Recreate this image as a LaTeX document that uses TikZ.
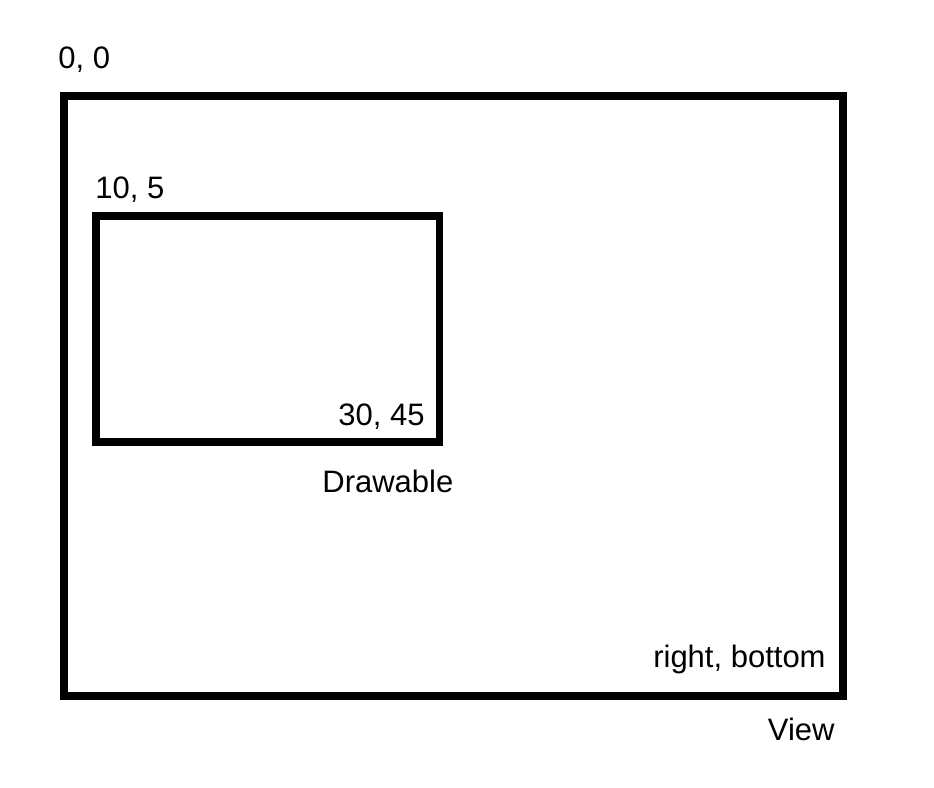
\documentclass[tikz,border=0pt]{standalone}
\usepackage{fontspec}
\setmainfont{Liberation Sans}
\usepackage{tikz}

\begin{document}
\begin{tikzpicture}[x=0.5pt, y=-0.5pt, font=\fontsize{15.5}{18}\selectfont,
		frame/.style={draw, line width=4pt, inner sep=0pt, outer sep=0pt},
		coord/.style={inner sep=0pt}]
		\useasboundingbox (0, 0) rectangle (934, 788);
		\node[frame, minimum width=389.5pt, minimum height=300pt] (view) at (453.5, 396) {};
		\node[frame, line width=3.8pt, minimum width=171.75pt, minimum height=113pt] (drawable) at (267.75, 329) {};
		
		\node[coord, anchor=base west] (origin) at (58, 68) {0, 0};
		\node[coord, anchor=base west] (dtopleft) at (95, 198) {10, 5};
		\node[coord, anchor=base east] (dbottomright) at (425, 425) {30, 45};
		\node[coord, anchor=base west] (dname) at (322, 492) {Drawable};
		\node[coord, anchor=base east] (vbottomright) at (826, 667) {right, bottom};
		\node[coord, anchor=base east] (vname) at (835, 740) {View};
	\end{tikzpicture}
\end{document}
